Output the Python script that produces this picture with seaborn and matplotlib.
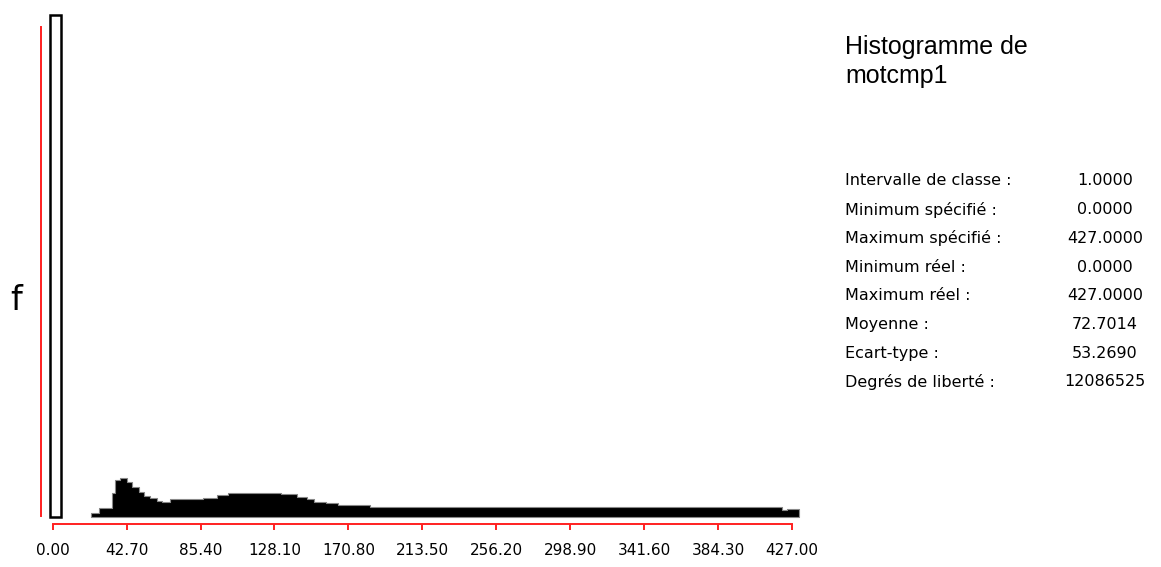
import matplotlib
matplotlib.use("Agg")
import matplotlib.pyplot as plt
import seaborn as sns

# histogramme de motcmp1 : classes de largeur 1, profil (f en %)
spike_value = 0.0
spike_freq = 7.98

# bords gauches des paliers et frequence de chaque palier
class_left = [22, 27, 34, 36, 39, 43, 46, 50, 53, 56, 60, 63, 68, 87, 95, 101,
              132, 141, 147, 151, 158, 165, 183, 421, 424]
class_right_end = 431
class_freq = [0.06, 0.14, 0.38, 0.59, 0.62, 0.56, 0.48, 0.40, 0.33, 0.30, 0.25,
              0.24, 0.29, 0.30, 0.35, 0.38, 0.37, 0.32, 0.29, 0.24, 0.22, 0.19,
              0.16, 0.11, 0.13]

tick_values = [0.0, 42.7, 85.4, 128.1, 170.8, 213.5, 256.2, 298.9, 341.6, 384.3, 427.0]
tick_labels = ["0.00", "42.70", "85.40", "128.10", "170.80", "213.50", "256.20",
               "298.90", "341.60", "384.30", "427.00"]

title_lines = ["Histogramme de", "motcmp1"]
stat_names = ["Intervalle de classe :", "Minimum spécifié :", "Maximum spécifié :",
              "Minimum réel :", "Maximum réel :", "Moyenne :", "Ecart-type :",
              "Degrés de liberté :"]
stat_values = ["1.0000", "0.0000", "427.0000", "0.0000", "427.0000", "72.7014",
               "53.2690", "12086525"]

sns.set_style("white")
plt.rcParams["font.family"] = ["DejaVu Sans"]
plt.rcParams["text.color"] = "black"
plt.rcParams["xtick.color"] = "red"
plt.rcParams["xtick.labelcolor"] = "black"

W, H = 1161, 567
fig = plt.figure(figsize=(W / 100, H / 100), dpi=100)
ax = fig.add_axes([30 / W, (H - 540) / H, 780 / W, 535 / H])

edges = class_left + [class_right_end]
sns.histplot(x=class_left, weights=class_freq, bins=edges, stat="count",
             element="step", fill=True, color="black", alpha=1,
             edgecolor="#888888", linewidth=0.8, ax=ax)

# barre isolee a 0, dessinee en creux
sns.histplot(x=[spike_value], weights=[spike_freq], bins=[-1.5, 4.8], stat="count",
             color="white", alpha=1, edgecolor="black", linewidth=1.8, ax=ax)

px_x = 1.7314
px_y = 62.9
ax.set_xlim((30 - 52.7) / px_x, (810 - 52.7) / px_x)
ax.set_ylim((517 - 540) / px_y, (517 - 5) / px_y)

for side in ["top", "right"]:
    ax.spines[side].set_visible(False)
ax.spines["left"].set_position(("data", (41 - 52.7) / px_x))
ax.spines["left"].set_bounds(0.02, (517 - 27) / px_y)
ax.spines["left"].set_color("#ff2020")
ax.spines["left"].set_linewidth(1.4)
ax.spines["bottom"].set_position(("data", -7 / px_y))
ax.spines["bottom"].set_bounds(0, 427)
ax.spines["bottom"].set_color("#ff2020")
ax.spines["bottom"].set_linewidth(1.4)

ax.set_xticks(tick_values)
ax.set_xticklabels(tick_labels, fontsize=11)
ax.tick_params(axis="x", bottom=True, direction="out", length=4, width=1.4,
               color="#ff2020", labelcolor="black", pad=10)
ax.set_yticks([])
ax.set_xlabel("")
ax.set_ylabel("")

fig.text(16 / W, 1 - 300 / H, "f", fontsize=24, ha="center", va="center")

for i, line in enumerate(title_lines):
    fig.text(845 / W, 1 - (47 + 29 * i) / H, line, fontsize=18,
             family="Liberation Sans", ha="left", va="center")

for i, (name, val) in enumerate(zip(stat_names, stat_values)):
    y = 1 - (181 + 28.7 * i) / H
    fig.text(845 / W, y, name, fontsize=11.5, ha="left", va="center")
    fig.text(1105 / W, y, val, fontsize=11.5, ha="center", va="center")

fig.savefig("out.png", dpi=100, facecolor="white")
